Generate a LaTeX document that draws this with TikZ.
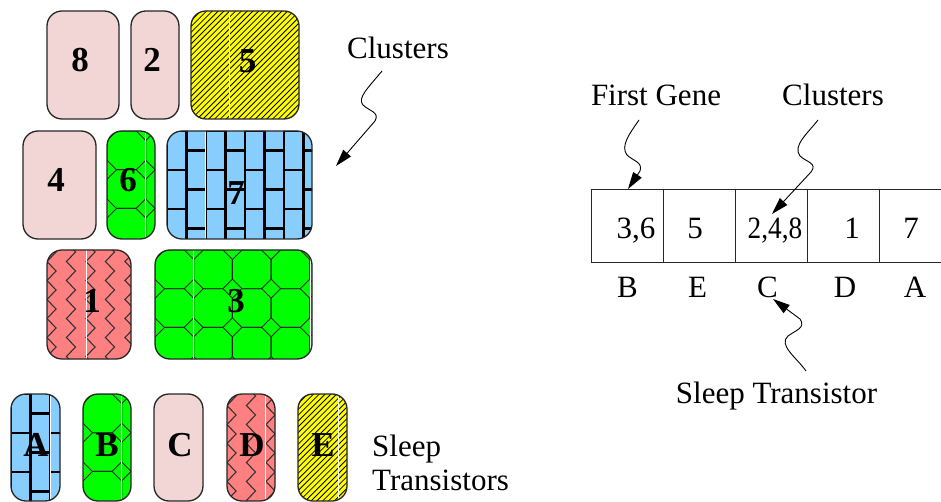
\documentclass[tikz,border=0pt]{standalone}
\usepackage{fontspec}
\setmainfont{Liberation Serif}
\usetikzlibrary{arrows.meta}

\definecolor{pinkfill}{RGB}{242,214,214}
\definecolor{greenfill}{RGB}{0,255,0}
\definecolor{bluefill}{RGB}{135,206,255}
\definecolor{salmonfill}{RGB}{255,128,128}
\definecolor{yellowfill}{RGB}{255,255,0}

% fill patterns, drawn in block-local coordinates (origin at the top-left corner, y downwards)
\newcommand\hatchfill{\foreach \k in {-24,...,32} \draw[line width=0.8, black] ({\k*5.8},120) -- ++(125,-125);}
\newcommand\brickfill{\foreach \c in {0,...,8} {%
  \draw[line width=2.2, black] ({\c*19.5},-2) -- ++(0,120);
  \foreach \m in {0,...,3} \draw[line width=2.2, black] ({\c*19.5},{(2*\m+mod(\c,2))*19.5}) -- ++(19.5,0);}}
\newcommand\octfill{\foreach \i in {0,...,4} \foreach \j in {0,...,2} {%
  \draw[line width=0.9, black!85] ({\i*38.7+9.5},{\j*38.7}) -- ++(19.7,0) -- ++(9.5,9.5) -- ++(0,19.7)
    -- ++(-9.5,9.5) -- ++(-19.7,0) -- ++(-9.5,-9.5) -- ++(0,-19.7) -- cycle;}}
\newcommand\zigfill{\foreach \k in {0,...,8} \draw[line width=1.1, black!80] ({\k*19.5},-7.5)
  \foreach \n in {1,...,7} {-- ++(9,9.5) -- ++(-9,9.5)};}
\newcommand\seam[1]{\draw[white, line width=0.9] (#1,-2) -- ++(0,120);}

% fill a block node with a pattern, clipped to its rounded outline, then stroke the outline
\newcommand\patblock[2]{%
  \begin{scope}
    \clip[rounded corners=15] (#1.north west) rectangle (#1.south east);
    \begin{scope}[shift={(#1.north west)}]#2\end{scope}
  \end{scope}
  \draw[blkline] (#1.north west) rectangle (#1.south east);}

\tikzset{
  blkline/.style={draw=black!85, line width=1.3, rounded corners=15},
  blk/.style={rounded corners=15, inner sep=0, outer sep=0},
  pinkblk/.style={blk, blkline, fill=pinkfill},
  hatchblk/.style={blk, fill=yellowfill},
  brickblk/.style={blk, fill=bluefill},
  octblk/.style={blk, fill=greenfill},
  zigblk/.style={blk, fill=salmonfill},
  num/.style={font=\fontsize{35}{40}\selectfont\bfseries, anchor=base, inner sep=0},
  txt/.style={font=\fontsize{31}{36}\selectfont, anchor=base, inner sep=0},
  cell/.style={draw=black!85, line width=1, minimum width=72, minimum height=73, inner sep=0},
  ptr/.style={-{Triangle[length=17pt,width=10pt]}, line width=0.9},
}

\begin{document}
\begin{tikzpicture}[x=1pt, y=-1pt]
\useasboundingbox (0,0) rectangle (941,502);

% clusters
\node[pinkblk,  minimum width=72,  minimum height=108] (b8) at (83,65) {};
\node[pinkblk,  minimum width=48,  minimum height=108] (b2) at (155,65) {};
\node[hatchblk, minimum width=108, minimum height=108] (b5) at (245,65) {};
\node[pinkblk,  minimum width=73,  minimum height=108] (b4) at (59.5,185) {};
\node[octblk,   minimum width=48,  minimum height=108] (b6) at (131,185) {};
\node[brickblk, minimum width=145, minimum height=108] (b7) at (239.5,185) {};
\node[zigblk,   minimum width=84,  minimum height=109] (b1) at (89,304.5) {};
\node[octblk,   minimum width=157, minimum height=109] (b3) at (233.5,304.5) {};

\patblock{b5}{\hatchfill\seam{38.3}}
\patblock{b6}{\octfill\seam{38.7}}
\patblock{b7}{\brickfill\seam{38}}
\patblock{b1}{\zigfill\seam{39}}
\patblock{b3}{\octfill\seam{38.7}\seam{155}}

\node[num] (l8) at (80,72) {8};
\node[num] (l2) at (152,72) {2};
\node[num] (l5) at (247.5,72.5) {5};
\node[num] (l4) at (56,192) {4};
\node[num] (l6) at (128,191.5) {6};
\node[num] (l7) at (236,205) {7};
\node[num] (l1) at (92,312) {1};
\node[num] (l3) at (236,312) {3};

% sleep transistors
\node[brickblk, minimum width=49, minimum height=107] (tA) at (35.5,447.5) {};
\node[octblk,   minimum width=48, minimum height=107] (tB) at (107,447.5) {};
\node[pinkblk,  minimum width=49, minimum height=107] (tC) at (178.5,447.5) {};
\node[zigblk,   minimum width=48, minimum height=107] (tD) at (251,447.5) {};
\node[hatchblk, minimum width=49, minimum height=107] (tE) at (322.5,447.5) {};

\patblock{tA}{\brickfill\seam{39}}
\patblock{tB}{\octfill\seam{38.7}}
\patblock{tD}{\zigfill\seam{38}}
\patblock{tE}{\hatchfill\seam{40}}

\node[num] (lA) at (36,456) {A};
\node[num] (lB) at (107,456) {B};
\node[num] (lC) at (180,456) {C};
\node[num] (lD) at (252,456) {D};
\node[num] (lE) at (323,456) {E};

\node[txt, anchor=base west] (st1) at (372,456) {Sleep};
\node[txt, anchor=base west] (st2) at (372,490) {Transistors};

% clusters label with pointer
\node[txt] (clLbl) at (398,59) {Clusters};
\coordinate (clA) at (382,71);
\coordinate (clTip) at (336,166);
\draw[ptr] (clA) .. controls (368,88) and (357,98) .. (363,105)
  .. controls (369,111) and (380,112) .. (375,121) -- (clTip);

% chromosome
\node[cell] (g1) at (627,226.5) {};
\node[cell] (g2) at (699,226.5) {};
\node[cell] (g3) at (771,226.5) {};
\node[cell] (g4) at (843,226.5) {};
\node[cell] (g5) at (915,226.5) {};

\node[txt] (v1) at (636,239) {3,6};
\node[txt] (v2) at (695,239) {5};
\node[txt, xscale=0.88, transform shape] (v3) at (775,239) {2,4,8};
\node[txt] (v4) at (852,239) {1};
\node[txt] (v5) at (911,239) {7};

\node[txt] (s1) at (627.5,298) {B};
\node[txt] (s2) at (697.5,298) {E};
\node[txt] (s3) at (767.5,298) {C};
\node[txt] (s4) at (845,298) {D};
\node[txt] (s5) at (915,298) {A};

\node[txt] (fgLbl) at (656,106) {First Gene};
\node[txt] (crLbl) at (833,106) {Clusters};
\node[txt] (stLbl) at (776.5,403) {Sleep Transistor};

\coordinate (fgA) at (639,120);
\coordinate (fgTip) at (628,189);
\draw[ptr] (fgA) .. controls (630,133) and (620,146) .. (627,155)
  .. controls (633,161) and (643,162) .. (640,171) -- (fgTip);

\coordinate (crA) at (818,120);
\coordinate (crTip) at (772,214);
\draw[ptr] (crA) .. controls (808,133) and (792,146) .. (800,156)
  .. controls (806,162) and (818,163) .. (811,172) -- (crTip);

\coordinate (stA) at (806,371);
\coordinate (stTip) at (773,299);
\draw[ptr] (stA) .. controls (796,357) and (778,345) .. (788,336)
  .. controls (796,330) and (806,328) .. (800,319) -- (stTip);
\end{tikzpicture}
\end{document}
